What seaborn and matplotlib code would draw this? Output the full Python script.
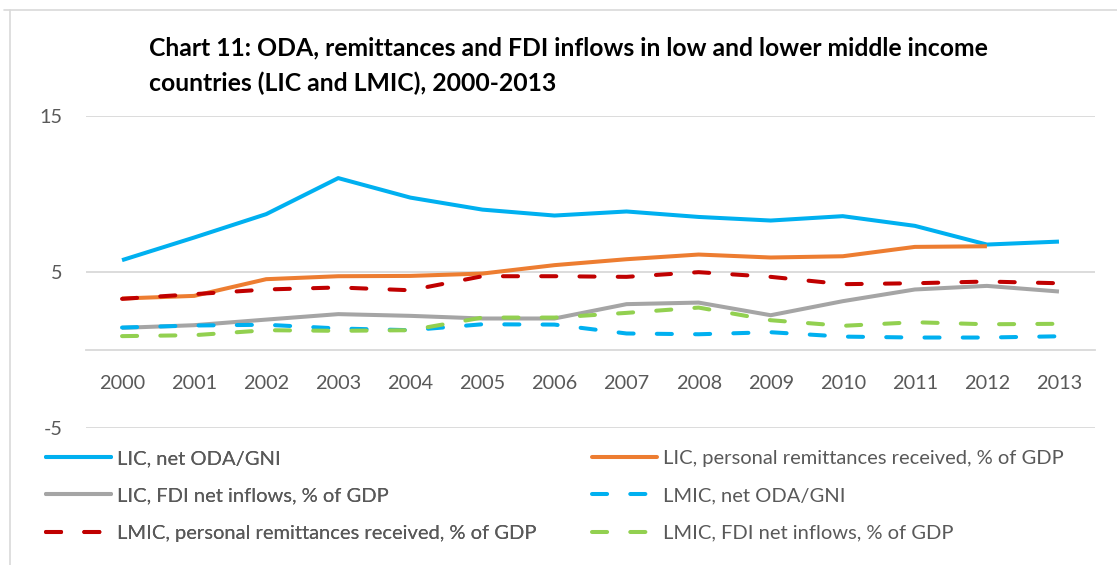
import numpy as np
import pandas as pd
import matplotlib
matplotlib.use("Agg")
import matplotlib.pyplot as plt
import seaborn as sns
from matplotlib.lines import Line2D

years = list(range(2000, 2014))
year_labels = [str(y) for y in years]

lic_oda = [5.74, 7.19, 8.69, 11.0, 9.75, 8.98, 8.6, 8.86, 8.51, 8.28, 8.56, 7.94, 6.74, 6.93]
lic_remit = [3.28, 3.45, 4.52, 4.71, 4.73, 4.88, 5.42, 5.8, 6.1, 5.91, 5.99, 6.59, 6.63, np.nan]
lic_fdi = [1.4, 1.57, 1.93, 2.28, 2.17, 2.0, 2.0, 2.92, 3.02, 2.21, 3.11, 3.86, 4.09, 3.73]
lmic_oda = [1.42, 1.55, 1.6, 1.36, 1.25, 1.63, 1.61, 1.04, 0.99, 1.12, 0.84, 0.78, 0.78, 0.86]
lmic_remit = [3.26, 3.56, 3.86, 3.99, 3.81, 4.71, 4.71, 4.67, 4.97, 4.67, 4.2, 4.26, 4.37, 4.26]
lmic_fdi = [0.87, 0.93, 1.25, 1.21, 1.25, 2.06, 2.06, 2.36, 2.7, 1.89, 1.53, 1.76, 1.63, 1.66]

series_names = [
    "LIC, net ODA/GNI",
    "LIC, personal remittances received, % of GDP",
    "LIC, FDI net inflows, % of GDP",
    "LMIC, net ODA/GNI",
    "LMIC, personal remittances received, % of GDP",
    "LMIC, FDI net inflows, % of GDP",
]
series_values = [lic_oda, lic_remit, lic_fdi, lmic_oda, lmic_remit, lmic_fdi]
series_colors = ["#00B0F0", "#ED7D31", "#A5A5A5", "#00B0F0", "#C00000", "#92D050"]
series_dashed = [False, False, False, True, True, True]

title_line1 = "Chart 11: ODA, remittances and FDI inflows in low and lower middle income"
title_line2 = "countries (LIC and LMIC), 2000-2013"

sns.set_theme(style="white")
plt.rcParams['font.family'] = ['Lato', 'DejaVu Sans']
plt.rcParams['axes.unicode_minus'] = False

fig = plt.figure(figsize=(11.17, 5.65), dpi=100)
W, H = 1117, 565
ax = fig.add_axes([86 / W, 1 - 427.7 / H, (1095 - 86) / W, (427.7 - 115.7) / H])

lw = 2.9
dash = (0, (3.75, 5.75))
handles = []
for name, vals, col, dashed in zip(series_names, series_values, series_colors, series_dashed):
    df = pd.DataFrame({"year": years, "value": vals}).dropna()
    ls = dash if dashed else "-"
    sns.lineplot(data=df, x="year", y="value", ax=ax, color=col, linewidth=lw,
                 linestyle=ls, dash_capstyle="round", solid_capstyle="butt",
                 solid_joinstyle="round", legend=False)
    handles.append(Line2D([0], [0], color=col, lw=lw, linestyle=ls,
                          dash_capstyle="round", solid_capstyle="round"))

ax.set_xlim(1999.5, 2013.5)
ax.set_ylim(-5, 15)
ax.set_yticks([-5, 5, 15])
ax.set_xticks(years)
ax.set_xticklabels(year_labels)
ax.set_xlabel("")
ax.set_ylabel("")

grid_col = "#D9D9D9"
for yv in [-5, 5, 15]:
    ax.axhline(yv, color=grid_col, lw=1.3, zorder=0)

for s in ["top", "right", "left"]:
    ax.spines[s].set_visible(False)
ax.spines["bottom"].set_position(("data", 0))
ax.spines["bottom"].set_color(grid_col)
ax.spines["bottom"].set_linewidth(1.3)
ax.spines["bottom"].set_zorder(0)

ax.tick_params(axis="x", length=0, pad=18, labelsize=14.3, labelcolor="#595959")
ax.tick_params(axis="y", length=0, pad=17, labelsize=14.3, labelcolor="#595959")

fig.text(149 / W, 1 - 48.3 / H, title_line1, ha="left", va="center",
         fontsize=17.8, fontweight="bold", color="#000000")
fig.text(149 / W, 1 - 83.3 / H, title_line2, ha="left", va="center",
         fontsize=17.8, fontweight="bold", color="#000000")

leg_kw = dict(loc="upper left", frameon=False, fontsize=14.5, handlelength=3.25,
              handletextpad=0.3, labelspacing=1.0, borderaxespad=0, borderpad=0)
col1 = [0, 2, 4]
col2 = [1, 3, 5]
leg1 = fig.legend([handles[i] for i in col1], [series_names[i] for i in col1],
                  bbox_to_anchor=(46 / W, 1 - 450 / H), **leg_kw)
fig.add_artist(leg1)
leg2 = fig.legend([handles[i] for i in col2], [series_names[i] for i in col2],
                  bbox_to_anchor=(592 / W, 1 - 450 / H), **leg_kw)
for lg in (leg1, leg2):
    for t in lg.get_texts():
        t.set_color("#595959")

border_col = "#D9D9D9"
fig.add_artist(Line2D([10 / W, 10 / W], [0, 1 - 10 / H], color=border_col, lw=1.2))
fig.add_artist(Line2D([4 / W, 1], [1 - 10 / H, 1 - 10 / H], color=border_col, lw=1.2))

fig.savefig("out.png", dpi=100)
